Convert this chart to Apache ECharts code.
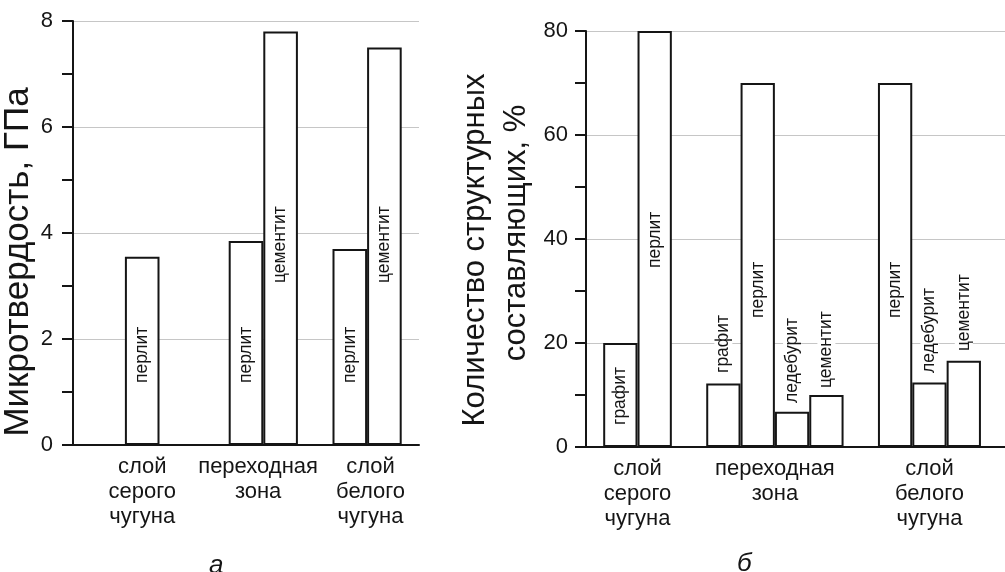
<!DOCTYPE html>
<html>
<head>
<meta charset="utf-8">
<script src="https://cdn.jsdelivr.net/npm/echarts@6/dist/echarts.min.js"></script>
<style>html,body{margin:0;padding:0;background:#fff}#c{width:1005px;height:572px}</style>
</head>
<body>
<div id="c"></div>
<script>
// ---- data ----
const groupNames = ['слой\nсерого\nчугуна', 'переходная\nзона', 'слой\nбелого\nчугуна'];

// (a) microhardness, GPa
const hardnessPhases = [['перлит'], ['перлит', 'цементит'], ['перлит', 'цементит']];
const hardnessValues = [[3.55], [3.85, 7.8], [3.7, 7.5]];
const hardnessTicks = [0, 2, 4, 6, 8];

// (б) amount of structural constituents, %
const contentPhases = [['графит', 'перлит'], ['графит', 'перлит', 'ледебурит', 'цементит'], ['перлит', 'ледебурит', 'цементит']];
const contentValues = [[20, 80], [12.2, 70, 6.8, 10], [70, 12.4, 16.6]];
const contentTicks = [0, 20, 40, 60, 80];

// ---- layout (slot positions along the x scale, label offsets in px) ----
const hardStarts = [2, 5, 8];
const hardLabelAt = [2, 5.35, 8.6];
const hardLabelDist = [[60], [60, 160], [60, 160]];
const contStarts = [1, 4, 9];
const contLabelDist = [[20, 177], [72, 127, 42, 57], [127, 72, 94]];

const FONT = '"Liberation Sans", Arial, Helvetica, sans-serif';
const INK = '#151515';
const GRID = '#c6c6c6';

function barData(phases, values, starts, dists) {
  const out = [];
  phases.forEach((g, gi) => g.forEach((p, pi) => {
    out.push({ value: [starts[gi] + pi, values[gi][pi]], label: { formatter: p, distance: dists[gi][pi] } });
  }));
  return out;
}
function groupCenters(phases, starts) {
  return phases.map((g, gi) => starts[gi] + (g.length - 1) / 2);
}
const contLabelAt = groupCenters(contentPhases, contStarts);

function xAxisCfg(gi, max, labelAt) {
  return {
    type: 'value', gridIndex: gi, min: 0, max: max,
    axisLine: { show: true, lineStyle: { color: INK, width: 2 } },
    axisTick: { show: false },
    splitLine: { show: false },
    axisLabel: {
      customValues: labelAt,
      formatter: v => { const i = labelAt.findIndex(a => Math.abs(a - v) < 1e-6); return i >= 0 ? groupNames[i] : ''; },
      fontFamily: FONT, fontSize: 22, lineHeight: 25, color: INK, margin: 9
    }
  };
}
function yAxisCfg(gi, ticks, name, nameCfg, labelMargin) {
  return Object.assign({
    type: 'value', gridIndex: gi, min: ticks[0], max: ticks[ticks.length - 1], interval: ticks[1] - ticks[0],
    axisLine: { show: true, lineStyle: { color: INK, width: 2 } },
    axisTick: { show: true, inside: false, length: 11, lineStyle: { color: INK, width: 2 } },
    minorTick: { show: true, splitNumber: 2, length: 11, lineStyle: { color: INK, width: 2 } },
    splitLine: { show: true, lineStyle: { color: GRID, width: 1 } },
    axisLabel: { fontFamily: FONT, fontSize: 22, color: INK, margin: labelMargin },
    name: name, nameLocation: 'middle'
  }, nameCfg);
}
const barLabel = {
  show: true, position: 'insideBottom', rotate: 90, align: 'left', verticalAlign: 'middle',
  fontFamily: FONT, fontSize: 17.5, color: INK, backgroundColor: '#fff', padding: [0, 2]
};
const barStyle = { color: '#fff', borderColor: INK, borderWidth: 2 };

const chart = echarts.init(document.getElementById('c'));
chart.setOption({
  backgroundColor: '#fff',
  animation: false,
  title: [
    { text: 'а', left: 204, top: 548, textStyle: { fontFamily: FONT, fontStyle: 'italic', fontWeight: 'normal', fontSize: 26, color: INK } },
    { text: 'б', left: 732, top: 546, textStyle: { fontFamily: FONT, fontStyle: 'italic', fontWeight: 'normal', fontSize: 26, color: INK } }
  ],
  grid: [
    { left: 73, top: 21, width: 346, height: 424 },
    { left: 586, top: 31, width: 419, height: 416 }
  ],
  xAxis: [ xAxisCfg(0, 10, hardLabelAt), xAxisCfg(1, 12.2, contLabelAt) ],
  yAxis: [
    yAxisCfg(0, hardnessTicks, 'Микротвердость, ГПа', {
      nameGap: 37, nameTextStyle: { fontFamily: FONT, fontSize: 35, color: INK, padding: [0, 58, 0, 0] }
    }, 20),
    yAxisCfg(1, contentTicks, '{l1|Количество структурных}\n{l2|составляющих, %}', {
      nameGap: 49,
      nameTextStyle: {
        fontFamily: FONT, fontSize: 31, lineHeight: 41, color: INK,
        rich: {
          l1: { fontFamily: FONT, fontSize: 31, lineHeight: 41, color: INK, padding: [0, 22, 0, 0] },
          l2: { fontFamily: FONT, fontSize: 31, lineHeight: 41, color: INK, padding: [0, 0, 0, 12] }
        }
      }
    }, 18)
  ],
  series: [
    { type: 'bar', xAxisIndex: 0, yAxisIndex: 0, barWidth: 34.6, itemStyle: barStyle, label: barLabel,
      data: barData(hardnessPhases, hardnessValues, hardStarts, hardLabelDist) },
    { type: 'bar', xAxisIndex: 1, yAxisIndex: 1, barWidth: 34.3, itemStyle: barStyle, label: barLabel,
      data: barData(contentPhases, contentValues, contStarts, contLabelDist) }
  ]
});
</script>
</body>
</html>
